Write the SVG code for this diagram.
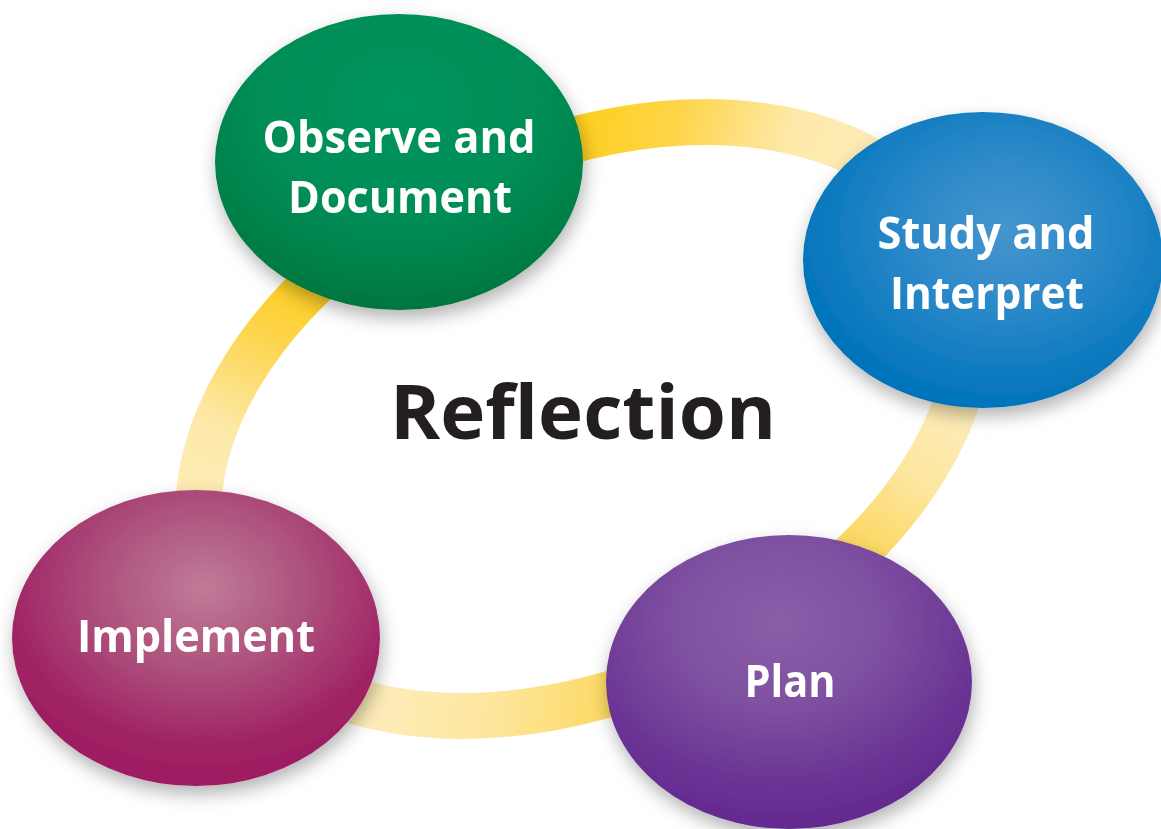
<svg xmlns="http://www.w3.org/2000/svg" width="1161" height="829" viewBox="0 0 1161 829">
  <defs>
    <style>
      .label { font-family: "Open Sans", "Liberation Sans", sans-serif; font-weight: 700; font-size: 45px; fill: #ffffff; text-anchor: middle; }
      .title { font-family: "Open Sans", "Liberation Sans", sans-serif; font-weight: 700; font-size: 76px; fill: #231f20; text-anchor: middle; }
      .band { fill: none; stroke-width: 46; stroke-linecap: butt; }
      .node { filter: url(#soft-shadow); }
    </style>

    <!-- soft drop shadow under each stage bubble -->
    <filter id="soft-shadow" x="-20%" y="-20%" width="140%" height="145%">
      <feDropShadow dx="2" dy="8" stdDeviation="9" flood-color="#000000" flood-opacity="0.3"/>
    </filter>

    <!-- ring segment shading -->
    <linearGradient id="band-top" gradientUnits="userSpaceOnUse" x1="590" y1="115" x2="830" y2="175">
      <stop offset="0" stop-color="#fdd022"/>
      <stop offset="0.35" stop-color="#fdd54a"/>
      <stop offset="0.8" stop-color="#fde9a8"/>
      <stop offset="1" stop-color="#fdebb2"/>
    </linearGradient>
    <linearGradient id="band-left" gradientUnits="userSpaceOnUse" x1="290" y1="290" x2="200" y2="470">
      <stop offset="0" stop-color="#fdcf2a"/>
      <stop offset="0.25" stop-color="#fdd44a"/>
      <stop offset="0.75" stop-color="#fde8a6"/>
      <stop offset="1" stop-color="#fdebb2"/>
    </linearGradient>
    <linearGradient id="band-bottom" gradientUnits="userSpaceOnUse" x1="390" y1="690" x2="610" y2="725">
      <stop offset="0" stop-color="#fdecb8"/>
      <stop offset="0.5" stop-color="#fde59a"/>
      <stop offset="1" stop-color="#fcd961"/>
    </linearGradient>
    <linearGradient id="band-right" gradientUnits="userSpaceOnUse" x1="960" y1="415" x2="870" y2="545">
      <stop offset="0" stop-color="#fdecb8"/>
      <stop offset="0.5" stop-color="#fde69e"/>
      <stop offset="1" stop-color="#fcd966"/>
    </linearGradient>

    <!-- bubble fills -->
    <radialGradient id="fill-green" cx="0.5" cy="0.3" r="0.78">
      <stop offset="0" stop-color="#05955d"/>
      <stop offset="0.5" stop-color="#038d56"/>
      <stop offset="0.8" stop-color="#027d46"/>
      <stop offset="1" stop-color="#006b34"/>
    </radialGradient>
    <radialGradient id="fill-blue" cx="0.56" cy="0.4" r="0.62">
      <stop offset="0" stop-color="#4595ce"/>
      <stop offset="0.45" stop-color="#2a88c8"/>
      <stop offset="0.8" stop-color="#0c7abf"/>
      <stop offset="1" stop-color="#0072b9"/>
    </radialGradient>
    <radialGradient id="fill-magenta" cx="0.52" cy="0.33" r="0.62">
      <stop offset="0" stop-color="#c07b98"/>
      <stop offset="0.45" stop-color="#ad527d"/>
      <stop offset="0.85" stop-color="#a02466"/>
      <stop offset="1" stop-color="#9e1e62"/>
    </radialGradient>
    <radialGradient id="fill-purple" cx="0.47" cy="0.3" r="0.65">
      <stop offset="0" stop-color="#8a5ea8"/>
      <stop offset="0.45" stop-color="#7e50a0"/>
      <stop offset="0.85" stop-color="#6a3394"/>
      <stop offset="1" stop-color="#652c90"/>
    </radialGradient>
  </defs>

  <rect width="1161" height="829" fill="#ffffff"/>

  <!-- connecting ring: one tilted ellipse (407 x 267, -25deg), split into four shaded arcs -->
  <g id="connectors">
    <path class="band" stroke="url(#band-top)" d="M 471.2 177 A 407 267 -25 0 1 952.9 247"/>
    <path class="band" stroke="url(#band-right)" d="M 952.9 247 A 407 267 -25 0 1 696.8 661"/>
    <path class="band" stroke="url(#band-bottom)" d="M 696.8 661 A 407 267 -25 0 1 215.1 591"/>
    <path class="band" stroke="url(#band-left)" d="M 215.1 591 A 407 267 -25 0 1 471.2 177"/>
  </g>

  <text class="title" x="583" y="439" textLength="386" lengthAdjust="spacingAndGlyphs">Reflection</text>

  <g id="node-observe" class="node">
    <ellipse cx="399" cy="162" rx="184" ry="148" fill="url(#fill-green)"/>
    <text class="label" x="399" y="153" textLength="273" lengthAdjust="spacingAndGlyphs">Observe and</text>
    <text class="label" x="400" y="213" textLength="224" lengthAdjust="spacingAndGlyphs">Document</text>
  </g>

  <g id="node-study" class="node">
    <ellipse cx="983" cy="260" rx="180" ry="148" fill="url(#fill-blue)"/>
    <text class="label" x="986" y="249" textLength="217" lengthAdjust="spacingAndGlyphs">Study and</text>
    <text class="label" x="987" y="309" textLength="194" lengthAdjust="spacingAndGlyphs">Interpret</text>
  </g>

  <g id="node-plan" class="node">
    <ellipse cx="789" cy="682" rx="183" ry="147" fill="url(#fill-purple)"/>
    <text class="label" x="790" y="697" textLength="91" lengthAdjust="spacingAndGlyphs">Plan</text>
  </g>

  <g id="node-implement" class="node">
    <ellipse cx="196" cy="638" rx="184" ry="148" fill="url(#fill-magenta)"/>
    <text class="label" x="196" y="652" textLength="238" lengthAdjust="spacingAndGlyphs">Implement</text>
  </g>
</svg>
